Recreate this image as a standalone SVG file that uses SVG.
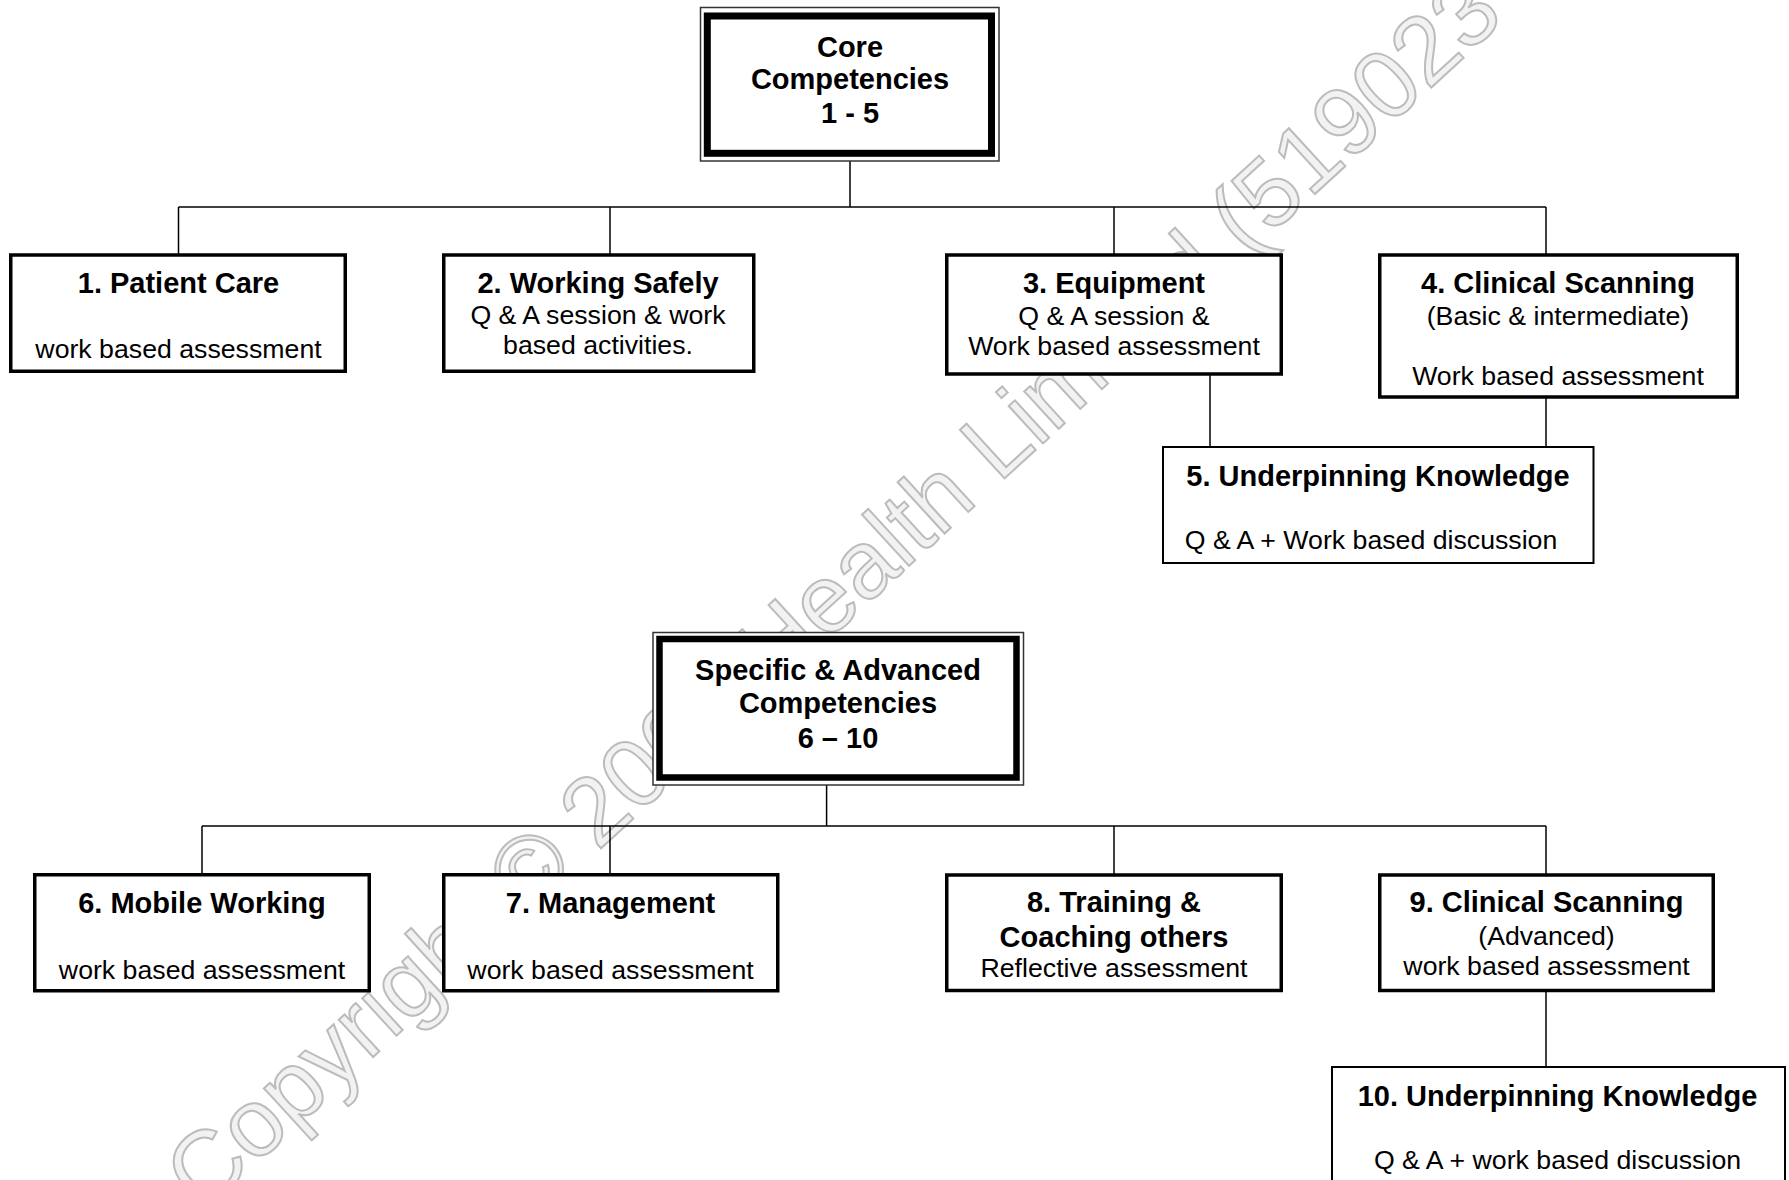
<svg xmlns="http://www.w3.org/2000/svg" width="1789" height="1180" viewBox="0 0 1789 1180">
<style>
.bg{fill:#fff}
.wm{font-family:"Liberation Sans",Arial,sans-serif;font-size:96px;fill:#f2f2f2;stroke:#bcbcbc;stroke-width:2}
.box{fill:#fff;stroke:#000;stroke-width:3.5}
.thin{fill:#fff;stroke:#000;stroke-width:2}
.outer{fill:#fff;stroke:#333;stroke-width:1.5}
.thick{fill:none;stroke:#000}
.t{font-family:"Liberation Sans",Arial,sans-serif;font-size:29px;font-weight:bold;text-anchor:middle;fill:#000}
.b{font-family:"Liberation Sans",Arial,sans-serif;font-size:26.7px;text-anchor:middle;fill:#000}
#connectors line{stroke:#000;stroke-width:1.5}
</style>
<rect class="bg" x="0" y="0" width="1789" height="1180"/>
<g id="watermark">
<text class="wm" transform="translate(203,1213) rotate(-42.5)">Copyright © 2009 Health Limited (519023</text>
</g>
<g id="connectors">
<line x1="850" y1="161" x2="850" y2="207"/>
<line x1="178.5" y1="207" x2="1546" y2="207"/>
<line x1="178.5" y1="207" x2="178.5" y2="254"/>
<line x1="610" y1="207" x2="610" y2="254"/>
<line x1="1114" y1="207" x2="1114" y2="254"/>
<line x1="1546" y1="207" x2="1546" y2="254"/>
<line x1="1210" y1="375" x2="1210" y2="447"/>
<line x1="1546" y1="397" x2="1546" y2="447"/>
<line x1="826.6" y1="785" x2="826.6" y2="826"/>
<line x1="202" y1="826" x2="1546" y2="826"/>
<line x1="202" y1="826" x2="202" y2="874"/>
<line x1="610" y1="826" x2="610" y2="874"/>
<line x1="1114" y1="826" x2="1114" y2="874"/>
<line x1="1546" y1="826" x2="1546" y2="874"/>
<line x1="1546" y1="991" x2="1546" y2="1067"/>
</g>
<g id="core">
<rect class="outer" x="700.5" y="7.5" width="298.5" height="153.5"/>
<rect class="thick" x="707.3" y="16" width="284.2" height="137.3" stroke-width="7"/>
<text class="t" x="850" y="56.7">Core</text>
<text class="t" x="850" y="89.3">Competencies</text>
<text class="t" x="850" y="123.3">1 - 5</text>
</g>
<g id="n1">
<rect class="box" x="10.75" y="255" width="334.5" height="116.25"/>
<text class="t" x="178.5" y="293">1. Patient Care</text>
<text class="b" x="178.5" y="358">work based assessment</text>
</g>
<g id="n2">
<rect class="box" x="443.75" y="255" width="310" height="116.25"/>
<text class="t" x="598" y="293">2. Working Safely</text>
<text class="b" x="598" y="324">Q &amp; A session &amp; work</text>
<text class="b" x="598" y="354">based activities.</text>
</g>
<g id="n3">
<rect class="box" x="946.75" y="255" width="334.5" height="119"/>
<text class="t" x="1114" y="293">3. Equipment</text>
<text class="b" x="1114" y="325">Q &amp; A session &amp;</text>
<text class="b" x="1114" y="355">Work based assessment</text>
</g>
<g id="n4">
<rect class="box" x="1379.75" y="255" width="357.5" height="142"/>
<text class="t" x="1558" y="293">4. Clinical Scanning</text>
<text class="b" x="1558" y="325">(Basic &amp; intermediate)</text>
<text class="b" x="1558" y="385">Work based assessment</text>
</g>
<g id="n5">
<rect class="thin" x="1163" y="447" width="430.5" height="116"/>
<text class="t" x="1378" y="486">5. Underpinning Knowledge</text>
<text class="b" x="1371" y="549">Q &amp; A + Work based discussion</text>
</g>
<g id="specific">
<rect class="outer" x="653" y="632.5" width="370.5" height="152.5"/>
<rect class="thick" x="659.5" y="639" width="357" height="138.5" stroke-width="6.5"/>
<text class="t" x="838" y="680">Specific &amp; Advanced</text>
<text class="t" x="838" y="713">Competencies</text>
<text class="t" x="838" y="748">6 – 10</text>
</g>
<g id="n6">
<rect class="box" x="34.75" y="874.75" width="334.5" height="116"/>
<text class="t" x="202" y="913">6. Mobile Working</text>
<text class="b" x="202" y="978.5">work based assessment</text>
</g>
<g id="n7">
<rect class="box" x="443.75" y="874.75" width="334" height="116"/>
<text class="t" x="610.5" y="913">7. Management</text>
<text class="b" x="610.5" y="978.5">work based assessment</text>
</g>
<g id="n8">
<rect class="box" x="946.75" y="875" width="334.5" height="115.5"/>
<text class="t" x="1114" y="912">8. Training &amp;</text>
<text class="t" x="1114" y="947">Coaching others</text>
<text class="b" x="1114" y="977">Reflective assessment</text>
</g>
<g id="n9">
<rect class="box" x="1379.75" y="875" width="333.5" height="115.5"/>
<text class="t" x="1546.5" y="912">9. Clinical Scanning</text>
<text class="b" x="1546.5" y="945">(Advanced)</text>
<text class="b" x="1546.5" y="975">work based assessment</text>
</g>
<g id="n10">
<rect class="thin" x="1332" y="1067" width="453" height="130"/>
<text class="t" x="1557.5" y="1105.5">10. Underpinning Knowledge</text>
<text class="b" x="1557.5" y="1168.7">Q &amp; A + work based discussion</text>
</g>
</svg>
